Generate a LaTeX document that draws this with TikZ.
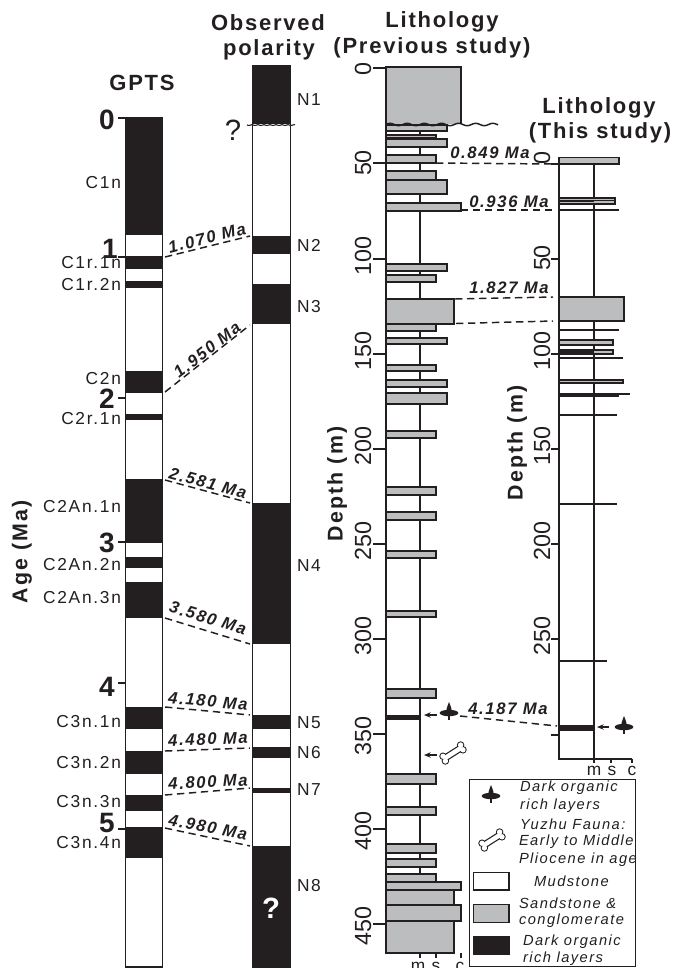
\documentclass[tikz,border=0pt]{standalone}
\usepackage{fontspec}
\setmainfont{Liberation Sans}
\newfontfamily\labfont[LetterSpace=10]{Liberation Sans}
\newfontfamily\ttlfont[LetterSpace=8]{Liberation Sans}
\newfontfamily\numfont{Liberation Sans}
\definecolor{ink}{HTML}{231F20}
\definecolor{rock}{HTML}{BBBDBF}
\tikzset{
  x=0.75pt,y=-0.75pt,
  every node/.style={text=ink,inner sep=0pt,outer sep=0pt},
  frame/.style={draw=ink,line width=1.25pt},
  band/.style={fill=ink},
  litho/.style={draw=ink,line width=1.25pt,fill=rock},
  thinrule/.style={draw=ink,line width=1pt},
  dashline/.style={draw=ink,line width=1.1pt,dash pattern=on 5.5pt off 3.5pt},
  agelab/.style={font=\labfont\fontsize{13}{15}\selectfont},
  chrlab/.style={agelab,anchor=east},
  polab/.style={agelab,anchor=west},
  bignum/.style={font=\numfont\bfseries\fontsize{21}{23}\selectfont},
  title/.style={font=\ttlfont\bfseries\fontsize{16.5}{18}\selectfont},
  depthnum/.style={font=\numfont\fontsize{17.5}{19}\selectfont,rotate=90},
  axtitle/.style={font=\labfont\bfseries\fontsize{16}{18}\selectfont,rotate=90},
  madate/.style={font=\labfont\bfseries\itshape\fontsize{12.5}{14}\selectfont},
  legtext/.style={font=\labfont\itshape\fontsize{11}{13}\selectfont,anchor=west},
  sclab/.style={agelab,anchor=base},
  arr/.style={draw=ink,line width=1pt,-{Stealth[length=5pt,width=4pt]}},
  organic/.pic={
    \fill[ink] (0,0) ellipse (7pt and 2.4pt);
    \fill[ink] (0,-11) .. controls (2,-6) and (3,-3) .. (3,0) -- (-3,0) .. controls (-3,-3) and (-2,-6) .. (0,-11) -- cycle;
    \draw[ink,line width=0.9pt] (0,0) -- (0,7);
  },
  bonepic/.pic={
    \foreach \col/\rr/\ww in {ink/2.8pt/5.2pt,white/2.0pt/3.4pt}{
      \fill[\col] (-10,3.2) circle (\rr) (-7.6,8) circle (\rr)
                  (10,-3.2) circle (\rr) (7.6,-8) circle (\rr);
      \draw[\col,line width=\ww] (-8.5,5.4) -- (8.5,-5.4);
    }
  },
}
\usetikzlibrary{arrows.meta}
\begin{document}
\begin{tikzpicture}
\useasboundingbox (0,0) rectangle (673,968);
\fill[white] (0,0) rectangle (673,968);

% ---------- GPTS column
\draw[frame] (125.5,118) rectangle (162.5,967);
\foreach \a/\b in {118/235,256/268.5,281/287.5,371/393,414/420,479/543,557/568,582/618,707/729,751/774,795/811,827/858}
  \fill[band] (125,\a) rectangle (163,\b);
\foreach \yy in {118,257,398,542,683,829}
  \draw[thinrule] (118,\yy) -- (125,\yy);
\node[bignum] (g0) at (107,120) {0};
\node[bignum] (g1) at (110,249) {1};
\node[bignum] (g2) at (107,399) {2};
\node[bignum] (g3) at (107,543) {3};
\node[bignum] (g4) at (107,687) {4};
\node[bignum] (g5) at (107,823) {5};
\foreach \t/\yy [count=\i] in {C1n/183,C1r.1n/263,C1r.2n/285,C2n/379,C2r.1n/419,C2An.1n/507,C2An.2n/565,C2An.3n/598,C3n.1n/722,C3n.2n/763,C3n.3n/802,C3n.4n/843}
  \node[chrlab] (chr\i) at (121,\yy) {\t};
\node[title] (tgpts) at (142,83) {GPTS};
\node[axtitle] (tage) at (22,552) {Age (Ma)};

% ---------- Observed polarity column
\draw[frame] (252.5,66) rectangle (290.5,968);
\foreach \a/\b in {65.5/124,236/254,284/324,503/644,715/729,747/758,788/793,846/968}
  \fill[band] (252,\a) rectangle (291,\b);
\draw[ink,line width=0.8pt] plot[domain=247:295,samples=50] (\x,{124.5+0.9*abs(sin(\x*30))});
\foreach \t/\yy [count=\i] in {N1/100,N2/245,N3/307,N4/566,N5/723,N6/753,N7/790,N8/886}
  \node[polab] (pol\i) at (297,\yy) {\t};
\node[font=\numfont\fontsize{22}{24}\selectfont] (qtop) at (233,130) {?};
\node[font=\numfont\bfseries\fontsize{22}{24}\selectfont,text=white] (qbot) at (271,908) {?};
\node[title,align=center] (tobs1) at (268,23) {Observed};
\node[title] (tobs2) at (269,50) {polarity};

% ---------- GPTS to polarity tie lines
\foreach \n/\xa/\ya/\xb/\yb in {a/165/257/250/236,b/165/392/250/325,c/165/480/250/503,d/165/618/250/644,e/165/707/250/715,f/165/751/250/748,g/165/795/250/788,h/165/828/250/846}{
  \coordinate (tie\n1) at (\xa,\ya);
  \coordinate (tie\n2) at (\xb,\yb);
  \draw[dashline] (tie\n1) -- (tie\n2);
}
\node[madate,rotate=14] (ma1) at (207,238) {1.070 Ma};
\node[madate,rotate=38] (ma2) at (207,350) {1.950 Ma};
\node[madate,rotate=-15] (ma3) at (208,483) {2.581 Ma};
\node[madate,rotate=-17] (ma4) at (208,618) {3.580 Ma};
\node[madate,rotate=-5] (ma5) at (208,701) {4.180 Ma};
\node[madate,rotate=2] (ma6) at (208,739) {4.480 Ma};
\node[madate,rotate=3] (ma7) at (208,782) {4.800 Ma};
\node[madate,rotate=-11] (ma8) at (208,827) {4.980 Ma};

% ---------- Lithology, previous study
\draw[frame] (420,124) -- (420,953);
\draw[frame] (386,67) -- (386,953) -- (454,953);
\foreach \a/\b/\c in {125/131/447,135/138/436,139/147/447,155/163/436,171/180/436,180/194/447,203/211/461,264/271/447,275/282/436,299/324/454,324/331/436,338/344/447,365/371/436,380/387/447,393/404/447,431/438/436,487/495/436,512/520/436,551/558/436,611/617/436,689/698/436,774/784/436,807/815/436,844/853/436,859/867/436,874/882/436,882/890/461,890/905/454,905/921/461,921/953/454}
  \draw[litho] (386,\a) rectangle (\c,\b);
\fill[rock] (386,67) rectangle (461,124);
\draw[frame] (386,124) -- (386,67) -- (461,67) -- (461,124);
\fill[band] (386,715) rectangle (420,719.5);
\draw[ink,line width=1.1pt] plot[domain=386:498,samples=70] (\x,{124.5+1.2*sin(\x*21)});
\foreach \xx in {420,436,461}
  \draw[thinrule] (\xx,953) -- (\xx,958);
\foreach \yy in {68,163,259,354,449,544,639,734,829,924}
  \draw[thinrule] (373,\yy) -- (386,\yy);
\foreach \t/\yy [count=\i] in {0/69,50/163,100/256,150/351,200/446,250/541,300/636,350/736,400/831,450/926}
  \node[depthnum] (pd\i) at (363,\yy) {\t};
\node[axtitle] (tdep1) at (337,484) {Depth (m)};
\node[title] (tlp1) at (442,22) {Lithology};
\node[title] (tlp2) at (432,48) {(Previous study)};
\node[sclab] (pm) at (418,971) {m};
\node[sclab] (ps) at (436,971) {s};
\node[sclab] (pc) at (460,971) {c};

% ---------- Lithology, this study
\draw[frame] (594,157) -- (594,759);
\draw[frame] (559,157) -- (559,759) -- (632,759);
\draw[litho] (559,157.5) rectangle (619,164);
\draw[litho] (559,198) rectangle (615,204);
\fill[band] (559,199.5) rectangle (594,202);
\draw[ink,line width=0.8pt] (559,200.5) -- (615,200.5);
\draw[ink,line width=1.4pt] (559,210) -- (619,210);
\draw[litho] (559,297) rectangle (624,321);
\draw[ink,line width=1.1pt] (559,330) -- (619,330);
\draw[litho] (559,340) rectangle (613,345);
\draw[litho] (559,350) rectangle (613,354);
\fill[band] (559,349.5) rectangle (594,354.5);
\draw[ink,line width=1.6pt] (559,358) -- (623,358);
\draw[litho,line width=0.8pt] (559,380) rectangle (623,383);
\draw[ink,line width=1pt] (559,394) -- (630,394);
\draw[ink,line width=1.8pt] (559,395.5) -- (619,395.5);
\draw[ink,line width=1pt] (559,415) -- (617,415);
\draw[ink,line width=1pt] (559,504) -- (617,504);
\draw[ink,line width=1.3pt] (559,661) -- (607,661);
\fill[band] (559,725) rectangle (594,730.5);
\foreach \xx in {594,611,632}
  \draw[thinrule] (\xx,759) -- (\xx,763);
\foreach \yy in {164,259,354,449,544,639,735}
  \draw[thinrule] (551,\yy) -- (559,\yy);
\foreach \t/\yy [count=\i] in {0/158,50/258,100/351,150/446,200/541,250/636}
  \node[depthnum] (td\i) at (542,\yy) {\t};
\node[axtitle] (tdep2) at (517,443) {Depth (m)};
\node[title] (tlt1) at (599,108) {Lithology};
\node[title] (tlt2) at (600,133) {(This study)};
\node[agelab] (tm) at (594,771) {m};
\node[agelab] (ts) at (612,771) {s};
\node[agelab] (tc) at (632,771) {c};

% ---------- Lithology tie lines
\foreach \n/\xa/\ya/\xb/\yb in {p/436/163/553/164,q/461/210/555/210,r/455/299/553/297,s/456/323.5/553/321,t/460/716/557/726}{
  \coordinate (lt\n1) at (\xa,\ya);
  \coordinate (lt\n2) at (\xb,\yb);
  \draw[dashline] (lt\n1) -- (lt\n2);
}
\node[madate] (mb1) at (490,153) {0.849 Ma};
\node[madate] (mb2) at (509,202) {0.936 Ma};
\node[madate] (mb3) at (509,288) {1.827 Ma};
\node[madate] (mb4) at (508,709) {4.187 Ma};

% ---------- Symbols and arrows
\pic (orgL) at (449,713) {organic};
\pic (orgR) at (624,727) {organic};
\pic (boneL) at (453,753) {bonepic};
\coordinate (ar1a) at (437,715); \coordinate (ar1b) at (424,715);
\coordinate (ar2a) at (437,755); \coordinate (ar2b) at (424,755);
\coordinate (ar3a) at (609,727); \coordinate (ar3b) at (597,727);
\draw[arr] (ar1a) -- (ar1b);
\draw[arr] (ar2a) -- (ar2b);
\draw[arr] (ar3a) -- (ar3b);

% ---------- Legend
\fill[white] (469,779) rectangle (636,967);
\draw[frame] (469.5,779.5) rectangle (635.5,966.5);
\pic (orgK) at (491,796) {organic};
\pic (boneK) at (492,840) {bonepic};
\draw[frame,fill=white] (473.5,872.5) rectangle (509,890);
\draw[frame,fill=rock] (473.5,904.5) rectangle (509,922.5);
\fill[band] (473,936) rectangle (510,955);
\node[legtext] (k1) at (520,788) {Dark organic};
\node[legtext] (k2) at (520,806) {rich layers};
\node[legtext] (k3) at (520,824) {Yuzhu Fauna:};
\node[legtext] (k4) at (519,842) {Early to Middle};
\node[legtext] (k5) at (519,860) {Pliocene in age};
\node[legtext] (k6) at (534,881) {Mudstone};
\node[legtext] (k7) at (519,903) {Sandstone \&};
\node[legtext] (k8) at (519,921) {conglomerate};
\node[legtext] (k9) at (523,942) {Dark organic};
\node[legtext] (k10) at (523,959) {rich layers};
\end{tikzpicture}
\end{document}
